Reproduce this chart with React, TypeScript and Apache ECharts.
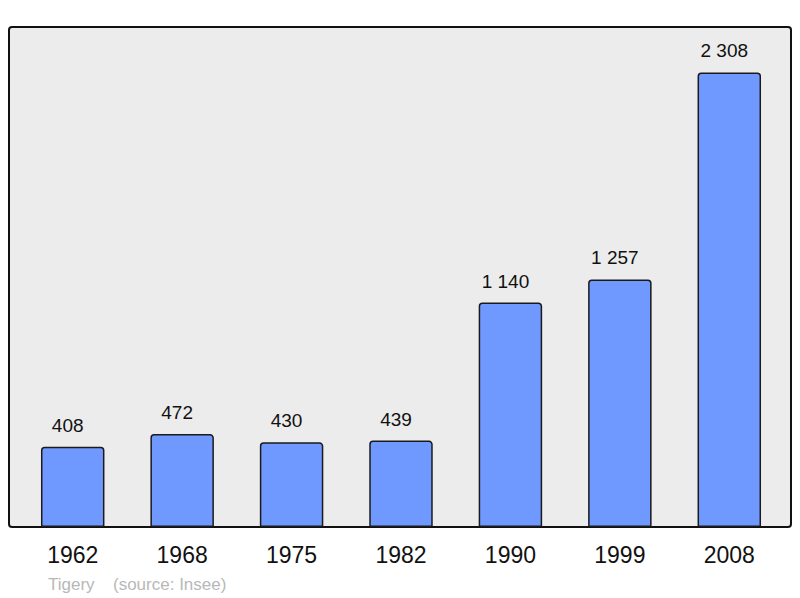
import React, { useEffect, useRef } from "react";
import * as echarts from "echarts";

const categories = ["1962", "1968", "1975", "1982", "1990", "1999", "2008"];
const populations = [408, 472, 430, 439, 1140, 1257, 2308];
const placeName = "Tigery";
const sourceText = "(source: Insee)";

const FONT = "'Liberation Sans', Arial, sans-serif";

function fmt(v: number): string {
  return String(v).replace(/\B(?=(\d{3})+(?!\d))/g, " ");
}

export default function App() {
  const ref = useRef<HTMLDivElement>(null);
  useEffect(() => {
    document.body.style.margin = "0";
    const chart = echarts.init(ref.current!, null, { renderer: "svg" });
    chart.setOption({
      animation: false,
      backgroundColor: "#ffffff",
      textStyle: { fontFamily: FONT },
      grid: { left: 18, right: 16, top: 27, bottom: 71 },
      graphic: [
        {
          type: "rect",
          z: 0,
          shape: { x: 9, y: 27, width: 782, height: 500, r: 3 },
          style: { fill: "#ececec", stroke: "#111111", lineWidth: 2 },
        },
        {
          type: "text",
          x: 48,
          y: 584,
          style: { text: placeName, fill: "#b8b8b8", font: `17px ${FONT}`, textVerticalAlign: "middle" },
        },
        {
          type: "text",
          x: 113,
          y: 584,
          style: { text: sourceText, fill: "#b8b8b8", font: `17px ${FONT}`, textVerticalAlign: "middle" },
        },
      ],
      xAxis: {
        type: "category",
        data: categories,
        axisLine: { show: false },
        axisTick: { show: false },
        axisLabel: { fontSize: 23, color: "#111111", margin: 16, fontFamily: FONT },
      },
      yAxis: {
        type: "value",
        min: 0,
        max: 2539,
        show: false,
        splitLine: { show: false },
      },
      series: [
        {
          type: "bar",
          data: populations,
          barWidth: "58%",
          z: 2,
          itemStyle: {
            color: "#7099ff",
            borderColor: "#1a1a1a",
            borderWidth: 1.5,
            borderRadius: [3, 3, 0, 0],
          },
          label: {
            show: true,
            position: "top",
            distance: 12,
            offset: [-5, 0],
            fontSize: 19,
            color: "#111111",
            fontFamily: FONT,
            formatter: (p: any) => fmt(p.value),
          },
        },
      ],
    });
    return () => chart.dispose();
  }, []);
  return <div ref={ref} style={{ width: 800, height: 598 }} />;
}
